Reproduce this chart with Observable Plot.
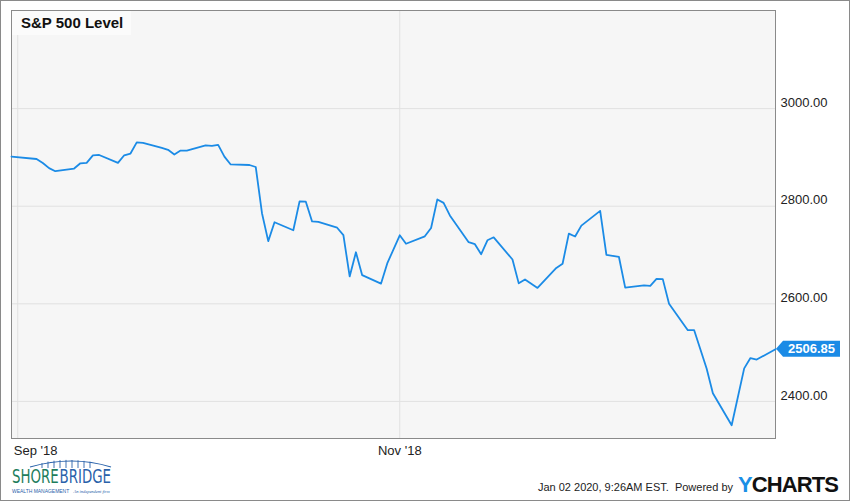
<!DOCTYPE html>
<html>
<head>
<meta charset="utf-8">
<script src="https://cdn.jsdelivr.net/npm/d3@7"></script>
<script src="https://cdn.jsdelivr.net/npm/@observablehq/plot@0.6"></script>
<style>
  html, body { margin: 0; padding: 0; background: #fff; }
  #wrap { position: relative; width: 850px; height: 501px; overflow: hidden; font-family: "Liberation Sans", Arial, sans-serif; }
  #chart { position: absolute; left: 0; top: 0; }
  #border { position: absolute; left: 0; top: 0; width: 850px; height: 501px; box-sizing: border-box; border: 1px solid #8a8a8a; pointer-events: none; }
  #title { position: absolute; left: 12px; top: 11px; width: 119px; height: 24px; background: #fbfbfb; font-weight: bold; font-size: 15px; color: #111; line-height: 24px; padding-left: 9px; box-sizing: border-box; }
  #footer { position: absolute; right: 117px; top: 481px; font-size: 11px; color: #222; white-space: pre; }
  #ycharts { position: absolute; left: 738px; top: 472px; font-size: 22px; font-weight: bold; color: #111; letter-spacing: -0.9px; }
  #ycharts span { color: #1a8fe6; }
  #logo { position: absolute; left: 10px; top: 456px; overflow: visible; }
</style>
</head>
<body>
<div id="wrap">
  <div id="chart"></div>
  <div id="title">S&amp;P 500 Level</div>
  <svg id="logo" width="112" height="42" viewBox="0 0 112 42">
    <path d="M20 11 Q62 -1 101 11" fill="none" stroke="#2a62aa" stroke-width="1.2"/>
    <g stroke="#2a62aa" stroke-width="0.9">
      <line x1="32" y1="7" x2="32" y2="12"/><line x1="38" y1="5.6" x2="38" y2="12"/><line x1="44" y1="4.7" x2="44" y2="12"/>
      <line x1="50" y1="4.1" x2="50" y2="12"/><line x1="56" y1="3.9" x2="56" y2="12"/><line x1="62" y1="4" x2="62" y2="12"/>
      <line x1="68" y1="4.3" x2="68" y2="12"/><line x1="74" y1="4.9" x2="74" y2="12"/><line x1="80" y1="5.7" x2="80" y2="12"/>
    </g>
  </svg>
  <div id="footer">Jan 02 2020, 9:26AM EST.  Powered by</div>
  <div id="ycharts"><span>Y</span>CHARTS</div>
  <div id="border"></div>
</div>
<script>
const dates = [
  "2018-08-31","2018-09-04","2018-09-05","2018-09-06","2018-09-07","2018-09-10","2018-09-11","2018-09-12","2018-09-13","2018-09-14",
  "2018-09-17","2018-09-18","2018-09-19","2018-09-20","2018-09-21","2018-09-24","2018-09-25","2018-09-26","2018-09-27","2018-09-28",
  "2018-10-01","2018-10-02","2018-10-03","2018-10-04","2018-10-05","2018-10-08","2018-10-09","2018-10-10","2018-10-11","2018-10-12",
  "2018-10-15","2018-10-16","2018-10-17","2018-10-18","2018-10-19","2018-10-22","2018-10-23","2018-10-24","2018-10-25","2018-10-26",
  "2018-10-29","2018-10-30","2018-10-31","2018-11-01","2018-11-02","2018-11-05","2018-11-06","2018-11-07","2018-11-08","2018-11-09",
  "2018-11-12","2018-11-13","2018-11-14","2018-11-15","2018-11-16","2018-11-19","2018-11-20","2018-11-21","2018-11-23","2018-11-26",
  "2018-11-27","2018-11-28","2018-11-29","2018-11-30","2018-12-03","2018-12-04","2018-12-06","2018-12-07","2018-12-10","2018-12-11",
  "2018-12-12","2018-12-13","2018-12-14","2018-12-17","2018-12-18","2018-12-19","2018-12-20","2018-12-21","2018-12-24","2018-12-26",
  "2018-12-27","2018-12-28","2018-12-31"
];
const levels = [
  2901.52,2896.72,2888.60,2878.05,2871.68,2877.13,2887.89,2888.92,2904.18,2904.98,
  2888.80,2904.31,2907.95,2930.75,2929.67,2919.37,2915.56,2905.97,2914.00,2913.98,
  2924.59,2923.43,2925.51,2901.61,2885.57,2884.43,2880.34,2785.68,2728.37,2767.13,
  2750.79,2809.92,2809.21,2768.78,2767.78,2755.88,2740.69,2656.10,2705.57,2658.69,
  2641.25,2682.63,2711.74,2740.37,2723.06,2738.31,2755.45,2813.89,2806.83,2781.01,
  2726.22,2722.18,2701.58,2730.20,2736.27,2690.73,2641.89,2649.93,2632.56,2673.45,
  2682.17,2743.79,2737.80,2760.17,2790.37,2700.06,2695.95,2633.08,2637.72,2636.78,
  2651.07,2650.54,2599.95,2545.94,2546.16,2506.96,2467.42,2416.62,2351.10,2467.70,
  2488.83,2485.74,2506.85
];
const yTicks = [2400, 2600, 2800, 3000];
const xTickDates = ["2018-09-01", "2018-11-01"];
const xTickLabels = ["Sep '18", "Nov '18"];
const xDomain = ["2018-08-31", "2018-12-31"];
const yDomain = [2324, 3201];

const parse = d3.utcParse("%Y-%m-%d");
const data = dates.map((d, i) => ({date: parse(d), value: levels[i]}));
const xt = xTickDates.map(parse);
const labelOf = new Map(xt.map((d, i) => [+d, xTickLabels[i]]));
const last = data[data.length - 1];
const blue = "#1b8be6";

const lastLabel = (index, scales, values, dimensions) => {
  const y = scales.y(last.value);
  const x0 = dimensions.width - dimensions.marginRight + 1;
  const g = d3.create("svg:g");
  g.append("path")
    .attr("d", `M${x0},${y} L${x0 + 7},${y - 8} H${x0 + 64} V${y + 8} H${x0 + 7} Z`)
    .attr("fill", blue);
  g.append("text")
    .attr("x", x0 + 35.5).attr("y", y).attr("dy", "0.36em")
    .attr("text-anchor", "middle")
    .attr("fill", "#fff").attr("font-weight", "bold").attr("font-size", 13)
    .attr("font-family", "Liberation Sans, Arial, sans-serif")
    .text(d3.format(".2f")(last.value));
  return g.node();
};

const chart = Plot.plot({
  width: 850,
  height: 470,
  marginLeft: 11,
  marginRight: 75,
  marginTop: 10,
  marginBottom: 32,
  style: {fontFamily: "Liberation Sans, Arial, sans-serif", fontSize: "13px", color: "#222", background: "transparent", overflow: "visible"},
  x: {type: "utc", domain: xDomain.map(parse)},
  y: {domain: yDomain},
  marks: [
    Plot.frame({fill: "#f6f6f6", stroke: null}),
    Plot.gridY({ticks: yTicks, stroke: "#e1e1e1", strokeOpacity: 1}),
    Plot.gridX({ticks: xt, stroke: "#e1e1e1", strokeOpacity: 1}),
    Plot.frame({stroke: "#8a8a8a"}),
    Plot.axisY({ticks: yTicks, anchor: "right", tickSize: 0, tickPadding: 5, dy: -6, tickFormat: d3.format(".2f"), fontSize: 13, fill: "#222", label: null}),
    Plot.axisX({ticks: [xt[0]], anchor: "bottom", tickSize: 0, tickPadding: 7, textAnchor: "start", dx: -4, tickFormat: d => labelOf.get(+d), fontSize: 13, fill: "#222", label: null}),
    Plot.axisX({ticks: [xt[1]], anchor: "bottom", tickSize: 0, tickPadding: 7, tickFormat: d => labelOf.get(+d), fontSize: 13, fill: "#222", label: null}),
    Plot.line(data, {x: "date", y: "value", stroke: blue, strokeWidth: 1.8}),
    lastLabel
  ]
});
document.getElementById("chart").appendChild(chart);

// Logo wordmark: two words side by side, compressed to fit the logo width
function wordPair(svg, a, b, opts) {
  const g = svg.append("g");
  const t1 = g.append("text").attr("x", 0).attr("y", 0)
    .attr("font-family", opts.font).attr("font-size", opts.size).attr("fill", opts.c1)
    .attr("font-style", opts.style1 || null).text(a);
  const w1 = t1.node().getComputedTextLength();
  const t2 = g.append("text").attr("x", w1 + opts.gap).attr("y", 0)
    .attr("font-family", opts.font2 || opts.font).attr("font-size", opts.size2 || opts.size).attr("fill", opts.c2)
    .attr("font-style", opts.style2 || null).text(b);
  const w2 = t2.node().getComputedTextLength();
  const k = opts.width / (w1 + opts.gap + w2);
  g.attr("transform", `translate(${opts.x},${opts.y}) scale(${k},1)`);
}
const logo = d3.select("#logo");
wordPair(logo, "SHORE", "BRIDGE", {font: "DejaVu Sans Condensed, Liberation Sans Narrow, sans-serif", size: 20, c1: "#1d7d5c", c2: "#2a62aa", gap: 1, width: 99, x: 2, y: 26.5});
wordPair(logo, "WEALTH MANAGEMENT", "An independent firm", {font: "Liberation Sans, sans-serif", size: 5, c1: "#2a62aa", c2: "#2a62aa", font2: "Liberation Serif, serif", size2: 4.5, style2: "italic", gap: 4, width: 98, x: 2, y: 36.5});
</script>
</body>
</html>
